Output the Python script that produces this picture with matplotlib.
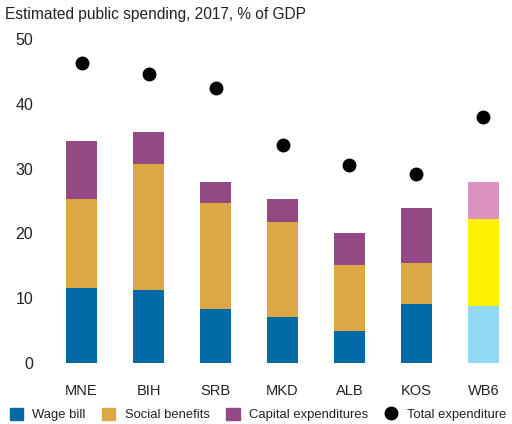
import matplotlib
matplotlib.use("Agg")
import matplotlib.pyplot as plt
from matplotlib.patches import Patch
from matplotlib.lines import Line2D

plt.rcParams["font.family"] = ["Liberation Sans", "DejaVu Sans"]

countries = ["MNE", "BIH", "SRB", "MKD", "ALB", "KOS", "WB6"]
wage_bill = [11.6, 11.2, 8.3, 7.1, 4.9, 9.1, 8.8]
social_benefits = [13.7, 19.5, 16.4, 14.6, 10.2, 6.3, 13.4]
capital_exp = [8.9, 4.9, 3.2, 3.6, 4.9, 8.5, 5.7]
total_exp = [46.3, 44.6, 42.5, 33.7, 30.5, 29.1, 37.9]

wage_colors = ["#0069a6"] * 6 + ["#8fd9f6"]
social_colors = ["#dba843"] * 6 + ["#fff200"]
capital_colors = ["#934a84"] * 6 + ["#dc92be"]

fig = plt.figure(figsize=(5.12, 4.24), dpi=100)
ax = fig.add_axes([51.4 / 512, 61 / 424, 460.2 / 512, 324 / 424])

x = range(len(countries))
width = 0.46
bottom2 = [w + s for w, s in zip(wage_bill, social_benefits)]
ax.bar(x, wage_bill, width=width, color=wage_colors)
ax.bar(x, social_benefits, width=width, bottom=wage_bill, color=social_colors)
ax.bar(x, capital_exp, width=width, bottom=bottom2, color=capital_colors)
ax.scatter(x, total_exp, s=100, color="black", zorder=3, linewidths=0)

ax.set_xlim(-0.45, 6.42)
ax.set_ylim(0, 50)
ax.set_yticks([0, 10, 20, 30, 40, 50])
ax.set_xticks(list(x), countries)
ax.tick_params(axis="y", length=0, pad=13, labelsize=11.5, labelcolor="#222222")
ax.tick_params(axis="x", length=0, pad=15, labelsize=10.5, labelcolor="#222222")
for spine in ax.spines.values():
    spine.set_visible(False)

fig.text(5 / 512, 1 - 14 / 424, "Estimated public spending, 2017, % of GDP",
         fontsize=11.2, color="#222222", va="center", ha="left")

handles = [
    Patch(color="#0069a6", label="Wage bill"),
    Patch(color="#dba843", label="Social benefits"),
    Patch(color="#934a84", label="Capital expenditures"),
    Line2D([], [], marker="o", color="black", linestyle="none", markersize=9,
           label="Total expenditure"),
]
fig.legend(handles=handles, loc="lower left", bbox_to_anchor=(0.004, -0.012), ncol=4,
           frameon=False, fontsize=9.4, handlelength=1.0, handleheight=1.0,
           handletextpad=0.7, columnspacing=1.3, borderaxespad=0.2, labelcolor="#222222")

fig.savefig("out.png", dpi=100)
